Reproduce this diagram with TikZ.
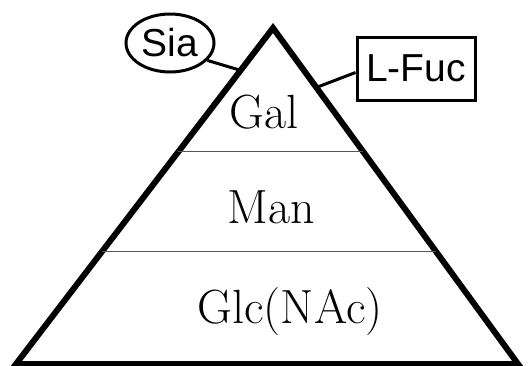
\documentclass[tikz,border=0pt]{standalone}
\usepackage{fontspec}
\usepackage{xcolor}
\usepackage{tikz}
\usetikzlibrary{calc,shapes.geometric}
\newfontfamily\labsans{Liberation Sans}
\definecolor{divc}{HTML}{555555}
\tikzset{
  pyr/.style={line width=6pt,line join=miter},
  cn/.style={line width=3pt},
  lvl/.style={font=\fontsize{48}{48}\selectfont,anchor=base},
  sug/.style={draw,line width=3pt,font=\labsans\fontsize{39}{39}\selectfont}
}
\begin{document}
\begin{tikzpicture}[x=1pt,y=-1pt]
\useasboundingbox (0,0) rectangle (528,365);
\coordinate (top) at (273,28);
\coordinate (bl) at (16,364);
\coordinate (br) at (518,364);
\draw[pyr] (top)--(bl)--(br)--cycle;
% dividers between the levels
\draw[divc,line width=1pt] ($(top)!0.369!(bl)$)--($(top)!0.369!(br)$);
\draw[divc,line width=1pt] ($(top)!0.666!(bl)$)--($(top)!0.666!(br)$);
\node[lvl] (gal) at (264,128) {Gal};
\node[lvl] (man) at (271,223) {Man};
\node[lvl] (glc) at (290,323) {Glc(NAc)};
\node[sug,ellipse,inner sep=0pt,minimum width=88,minimum height=58] (sia) at (170,43) {Sia};
\node[sug,rectangle,minimum width=118,minimum height=63,inner sep=2pt] (fuc) at (416,68.5) {L-Fuc};
\coordinate (sl) at ($(top)!0.126!(bl)$);
\coordinate (sr) at ($(top)!0.177!(br)$);
\draw[cn] (sia.-25)--(sl);
\draw[cn] ([yshift=-4pt]fuc.west)--(sr);
\end{tikzpicture}
\end{document}
